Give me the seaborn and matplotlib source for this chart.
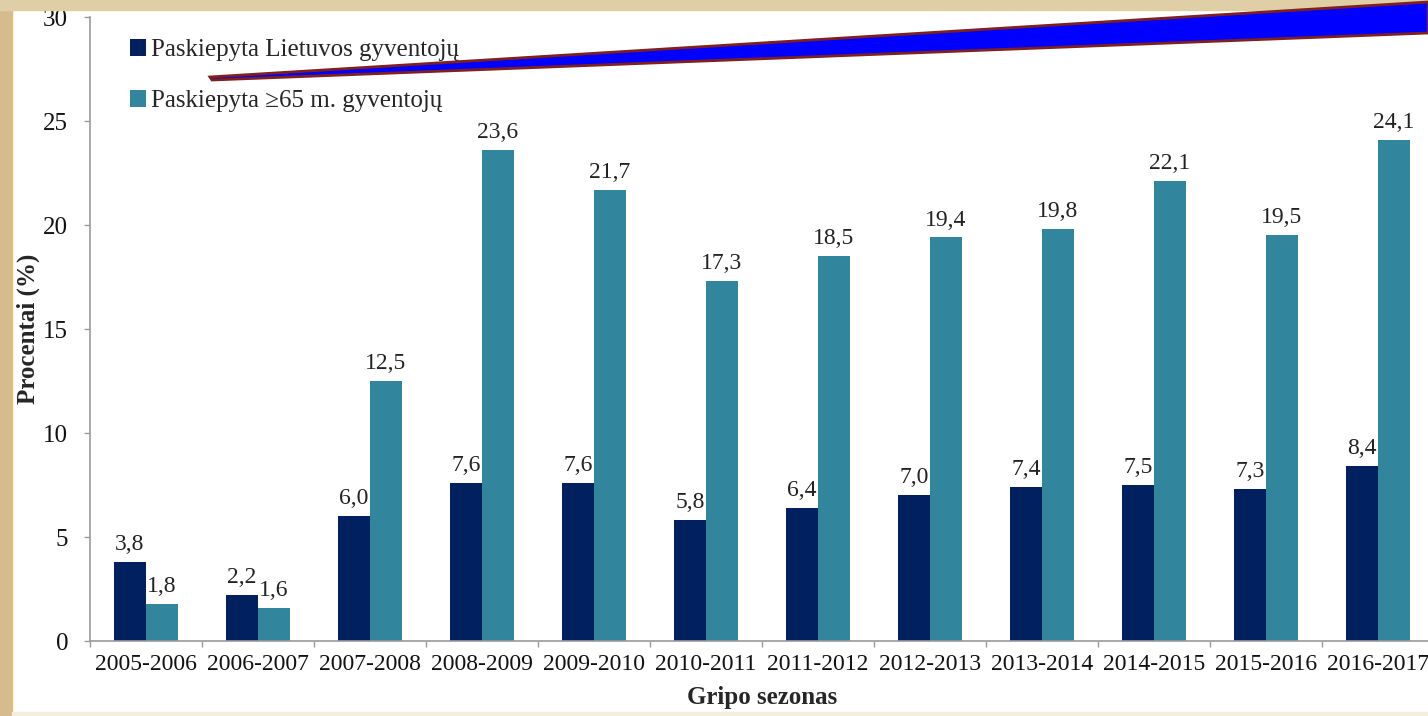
import numpy as np
import pandas as pd
import matplotlib
matplotlib.use("Agg")
import matplotlib.pyplot as plt
from matplotlib.patches import Rectangle, Polygon
import seaborn as sns

# data
seasons = ["2005-2006", "2006-2007", "2007-2008", "2008-2009", "2009-2010", "2010-2011",
           "2011-2012", "2012-2013", "2013-2014", "2014-2015", "2015-2016", "2016-2017"]
all_pop = [3.8, 2.2, 6.0, 7.6, 7.6, 5.8, 6.4, 7.0, 7.4, 7.5, 7.3, 8.4]
over65 = [1.8, 1.6, 12.5, 23.6, 21.7, 17.3, 18.5, 19.4, 19.8, 22.1, 19.5, 24.1]
series_names = ["Paskiepyta Lietuvos gyventojų", "Paskiepyta \u226565 m. gyventojų"]
colors = ["#002060", "#31859C"]

df = pd.DataFrame({
    "Sezonas": seasons * 2,
    "Reikšmė": all_pop + over65,
    "Grupė": [series_names[0]] * len(seasons) + [series_names[1]] * len(seasons),
})

sns.set_theme(style="white")
plt.rcParams["font.family"] = ["Liberation Serif", "DejaVu Serif"]

W, H = 1428, 716
fig = plt.figure(figsize=(W / 100, H / 100), dpi=100, facecolor="white")

# beige slide frame
fig.patches.append(Rectangle((0, 0), 12 / W, 1, transform=fig.transFigure,
                             color="#D4BC8C", zorder=0))
fig.patches.append(Rectangle((0, 1 - 10 / H), 1, 10 / H, transform=fig.transFigure,
                             color="#E0CFA6", zorder=0))
fig.patches.append(Rectangle((12 / W, 0), 1, 4 / H, transform=fig.transFigure,
                             color="#F6EEDC", zorder=0))

ax = fig.add_axes([90 / W, (H - 641) / H, 1344 / W, 624 / H])
ax.set_facecolor("none")

sns.barplot(data=df, x="Sezonas", y="Reikšmė", hue="Grupė", palette=colors,
            width=0.572, gap=0, saturation=1, ax=ax, errorbar=None, linewidth=0)

for cont in ax.containers:
    ax.bar_label(cont, labels=[f"{v:.1f}".replace(".", ",") for v in cont.datavalues],
                 padding=5, fontsize=17, color="#222222")

ax.set_ylim(0, 30)
ax.set_xlim(-0.5, len(seasons) - 0.5)
ax.set_yticks(range(0, 31, 5))
ax.tick_params(axis="y", length=4.3, width=1, color="#9A9A9A", pad=11.5,
               labelsize=18, left=True, labelcolor="#111111")
ax.tick_params(axis="x", which="major", length=0, pad=9, labelsize=17,
               labelcolor="#111111")
ax.set_xticks(np.arange(-0.5, len(seasons), 1), minor=True)
ax.tick_params(axis="x", which="minor", length=4.3, width=1, color="#9A9A9A",
               bottom=True)

for s in ["top", "right"]:
    ax.spines[s].set_visible(False)
for s in ["left", "bottom"]:
    ax.spines[s].set_color("#9A9A9A")
    ax.spines[s].set_linewidth(1.2)

ax.set_xlabel("Gripo sezonas", fontsize=18, fontweight="bold", labelpad=8)
ax.set_ylabel("Procentai (%)", fontsize=18, fontweight="bold", labelpad=2)

leg = ax.legend(loc="upper left", bbox_to_anchor=(120 / W, 1 - 29 / H),
                bbox_transform=fig.transFigure, frameon=False, fontsize=18,
                handlelength=0.65, handleheight=0.65, handletextpad=0.2,
                labelspacing=1.15, borderaxespad=0)

# decorative wedge from the slide template
fig.patches.append(Polygon([(210 / W, 1 - 77 / H), (1, 1 - 2 / H),
                            (1, 1 - 33 / H), (212 / W, 1 - 80 / H)],
                           closed=True, transform=fig.transFigure,
                           facecolor="#0000FF", edgecolor="#7F1F1F",
                           linewidth=2, zorder=5))

fig.savefig("out.png", dpi=100, facecolor=fig.get_facecolor())
